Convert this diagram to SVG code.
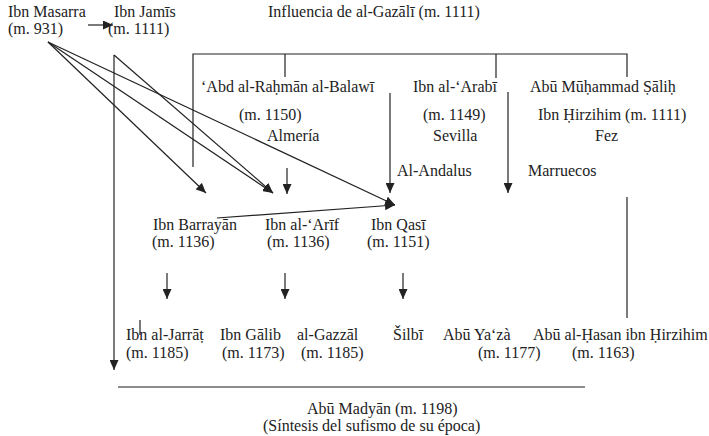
<svg xmlns="http://www.w3.org/2000/svg" width="709" height="436" viewBox="0 0 709 436">
<style>
.ln{stroke:#222;stroke-width:1.2;fill:none}
.ar{stroke:#222;stroke-width:1.2;fill:none;marker-end:url(#ah)}
</style>
<defs>
<marker id="ah" markerUnits="userSpaceOnUse" markerWidth="10" markerHeight="9" refX="10" refY="4.5" orient="auto">
<path d="M0,0 L10,4.5 L0,9 z" fill="#222"/>
</marker>
</defs>
<rect width="709" height="436" fill="#fff"/>
<g id="connectors">
<path class="ar" d="M88,25 H113"/>
<path class="ar" d="M48,42 L206,193"/>
<path class="ar" d="M48,42 L273,193"/>
<path class="ar" d="M48,42 L395,205"/>
<path class="ar" d="M114,55 L273,193"/>
<path class="ar" d="M114,55 V370"/>
<path class="ln" d="M193,167 V54 H627 V77"/>
<path class="ln" d="M285,54 V77"/>
<path class="ln" d="M496,54 V78"/>
<path class="ar" d="M390,93 V193"/>
<path class="ar" d="M508,92 V193"/>
<path class="ar" d="M287,168 V194"/>
<path class="ln" d="M627,197 V318"/>
<path class="ar" d="M217,218 L395,205"/>
<path class="ar" d="M167,273 V299"/>
<path class="ar" d="M285,273 V299"/>
<path class="ar" d="M403,273 V299"/>
<path class="ln" d="M140,320 V335"/>
<path d="M118,387 H585" stroke="#666" stroke-width="1.5"/>
</g>
<g font-family="Liberation Serif" font-size="16" fill="#222">
<g id="ibn-masarra"><text x="8" y="17" font-family="Liberation Serif">Ibn Masarra</text><text x="8" y="34" font-family="Liberation Serif">(m. 931)</text></g>
<g id="ibn-jamis"><text x="114" y="17" font-family="Liberation Serif">Ibn Jamīs</text><text x="108" y="34" font-family="Liberation Serif">(m. 1111)</text></g>
<g id="influencia"><text x="268" y="17" font-family="Liberation Serif">Influencia de al-Gazālī (m. 1111)</text></g>
<g id="balawi"><text x="201" y="92" font-family="Liberation Serif">‘Abd al-Raḥmān al-Balawī</text><text x="239" y="120" font-family="Liberation Serif">(m. 1150)</text><text x="267" y="141" font-family="Liberation Serif">Almería</text></g>
<g id="ibn-al-arabi"><text x="413" y="92" font-family="Liberation Serif">Ibn al-‘Arabī</text><text x="423" y="120" font-family="Liberation Serif">(m. 1149)</text><text x="433" y="141" font-family="Liberation Serif">Sevilla</text></g>
<g id="salih"><text x="530" y="92" font-family="Liberation Serif">Abū Mūḥammad Ṣāliḥ</text><text x="538" y="120" font-family="Liberation Serif">Ibn Ḥirzihim (m. 1111)</text><text x="595" y="141" font-family="Liberation Serif">Fez</text></g>
<g id="al-andalus"><text x="397" y="176" font-family="Liberation Serif">Al-Andalus</text></g>
<g id="marruecos"><text x="528" y="176" font-family="Liberation Serif">Marruecos</text></g>
<g id="barrayan"><text x="153" y="230" font-family="Liberation Serif">Ibn Barrayān</text><text x="152" y="247" font-family="Liberation Serif">(m. 1136)</text></g>
<g id="al-arif"><text x="265" y="230" font-family="Liberation Serif">Ibn al-‘Arīf</text><text x="267" y="247" font-family="Liberation Serif">(m. 1136)</text></g>
<g id="qasi"><text x="371" y="230" font-family="Liberation Serif">Ibn Qasī</text><text x="367" y="247" font-family="Liberation Serif">(m. 1151)</text></g>
<g id="jarrat"><text x="126" y="340" font-family="Liberation Serif">Ibn al-Jarrāṭ</text><text x="126" y="358" font-family="Liberation Serif">(m. 1185)</text></g>
<g id="galib"><text x="220" y="340" font-family="Liberation Serif">Ibn Gālib</text><text x="222" y="358" font-family="Liberation Serif">(m. 1173)</text></g>
<g id="gazzal"><text x="297" y="340" font-family="Liberation Serif">al-Gazzāl</text><text x="301" y="358" font-family="Liberation Serif">(m. 1185)</text></g>
<g id="silbi"><text x="393" y="340" font-family="Liberation Serif">Šilbī</text></g>
<g id="yaza"><text x="443" y="340" font-family="Liberation Serif">Abū Ya‘zà</text><text x="478" y="358" font-family="Liberation Serif">(m. 1177)</text></g>
<g id="hirzihim"><text x="533" y="340" font-family="Liberation Serif">Abū al-Ḥasan ibn Ḥirzihim</text><text x="572" y="358" font-family="Liberation Serif">(m. 1163)</text></g>
<g id="abu-madyan"><text x="307" y="414" font-family="Liberation Serif">Abū Madyān (m. 1198)</text><text x="263" y="431" font-family="Liberation Serif">(Síntesis del sufismo de su época)</text></g>
</g>
</svg>
